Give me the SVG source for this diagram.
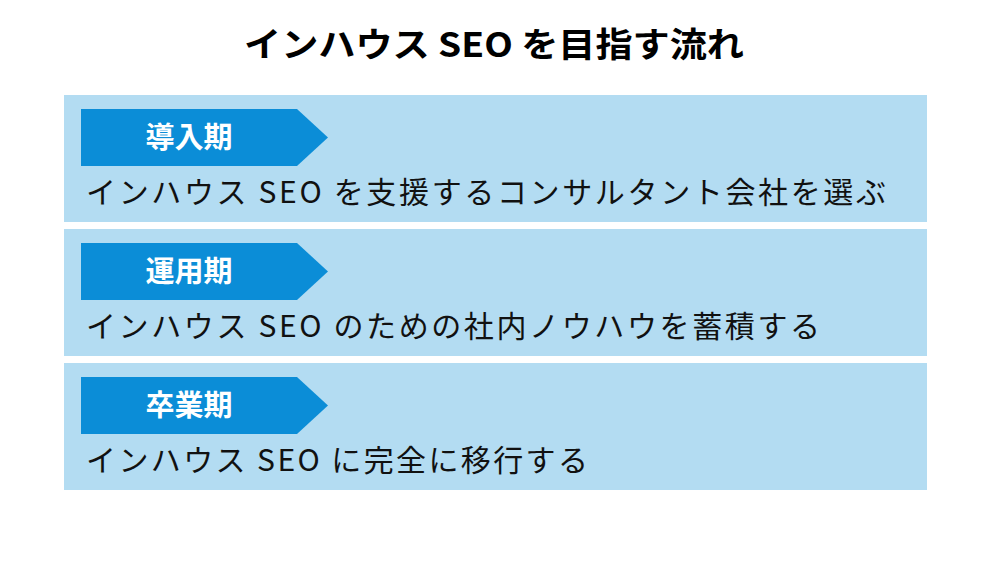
<svg xmlns="http://www.w3.org/2000/svg" width="1000" height="563" viewBox="0 0 1000 563">
<style>
.panel{fill:#b3dcf2}
.tag{fill:#0b8dd7}
.title{font-family:"Noto Sans CJK JP","Noto Sans",sans-serif;font-weight:bold;font-size:34px;fill:#000}
.lbl{font-family:"Noto Sans CJK JP","Noto Sans",sans-serif;font-weight:bold;font-size:29px;fill:#fff;text-anchor:middle}
.body{font-family:"Noto Sans CJK JP","Noto Sans",sans-serif;font-size:30px;fill:#111}
</style>
<rect width="1000" height="563" fill="#fff"/>
<text class="title" x="244" y="57" textLength="500" lengthAdjust="spacingAndGlyphs">インハウス SEO を目指す流れ</text>
<g id="stage1">
<rect class="panel" x="64" y="95" width="863" height="127"/>
<polygon class="tag" points="81,109 297,109 328,137.5 297,166 81,166"/>
<text class="lbl" x="189" y="148">導入期</text>
<text class="body" x="86" y="203" textLength="800" lengthAdjust="spacing">インハウス SEO を支援するコンサルタント会社を選ぶ</text>
</g>
<g id="stage2">
<rect class="panel" x="64" y="229" width="863" height="127"/>
<polygon class="tag" points="81,243 297,243 328,271.5 297,300 81,300"/>
<text class="lbl" x="189" y="282">運用期</text>
<text class="body" x="86" y="337" textLength="734" lengthAdjust="spacing">インハウス SEO のための社内ノウハウを蓄積する</text>
</g>
<g id="stage3">
<rect class="panel" x="64" y="363" width="863" height="127"/>
<polygon class="tag" points="81,377 297,377 328,405.5 297,434 81,434"/>
<text class="lbl" x="189" y="416">卒業期</text>
<text class="body" x="86" y="471" textLength="502" lengthAdjust="spacing">インハウス SEO に完全に移行する</text>
</g>
<g id="connectors"></g>
</svg>
